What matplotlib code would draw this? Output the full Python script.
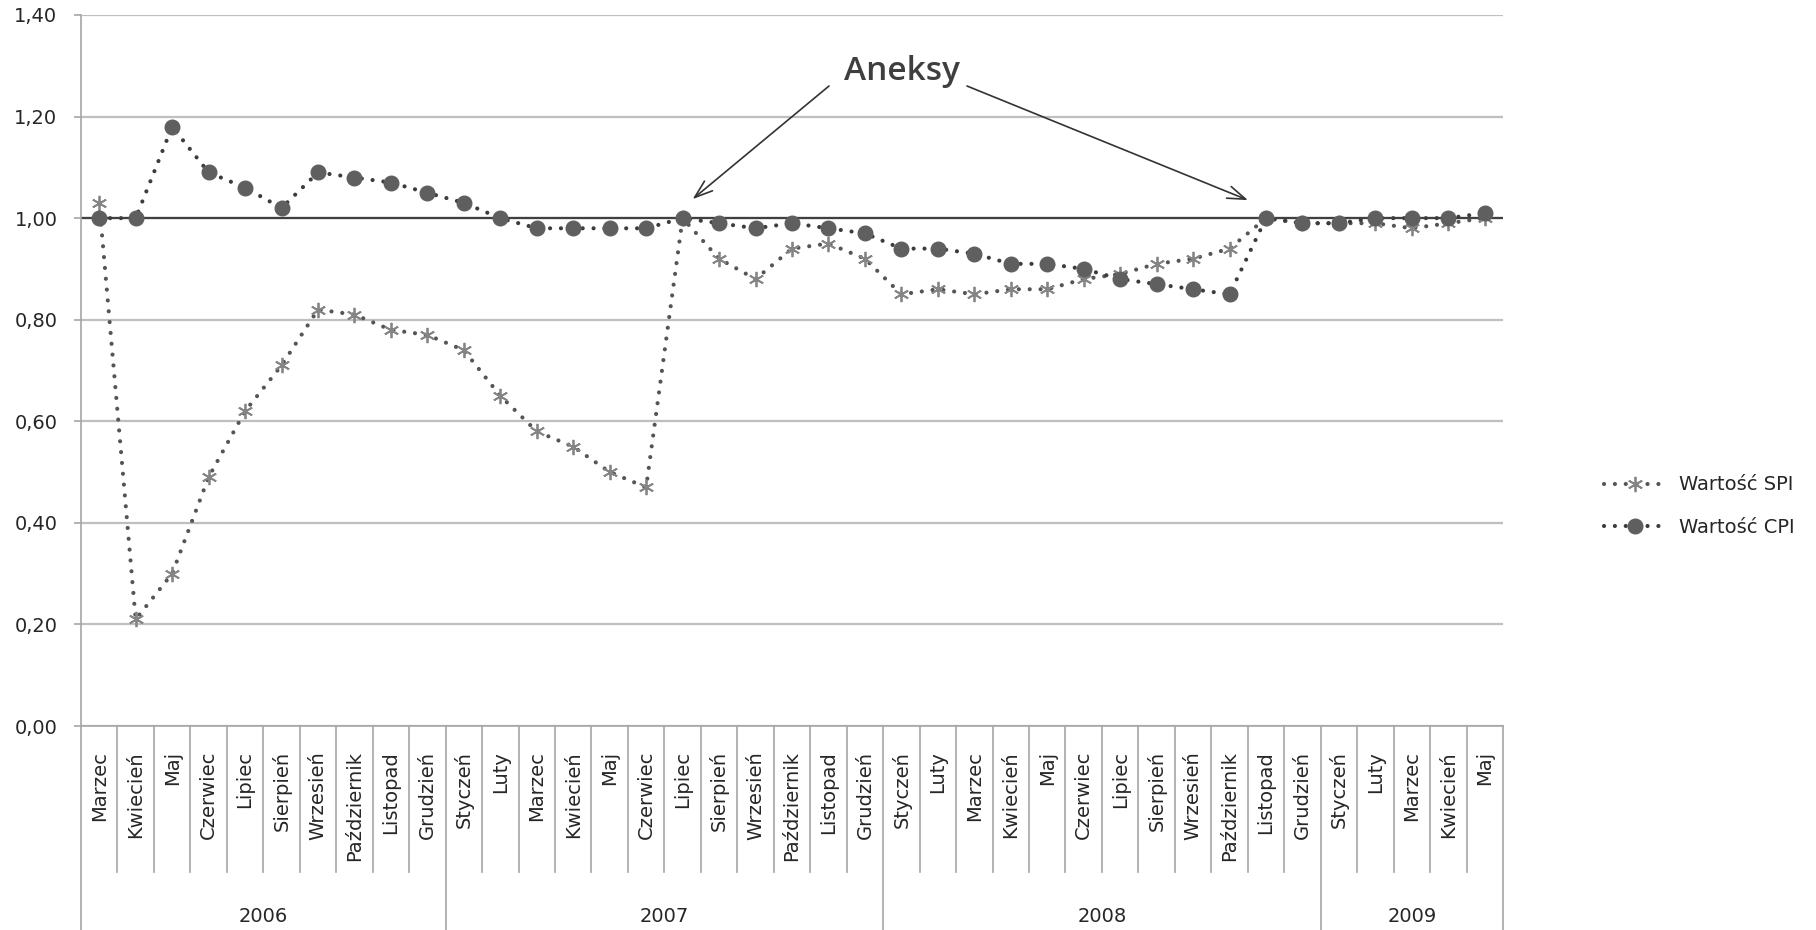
import matplotlib
matplotlib.use('Agg')
import matplotlib.pyplot as plt
import matplotlib.transforms as mtransforms
import numpy as np

# ---------------- data ----------------
months = ['Marzec', 'Kwiecień', 'Maj', 'Czerwiec', 'Lipiec', 'Sierpień', 'Wrzesień',
          'Październik', 'Listopad', 'Grudzień',
          'Styczeń', 'Luty', 'Marzec', 'Kwiecień', 'Maj', 'Czerwiec', 'Lipiec',
          'Sierpień', 'Wrzesień', 'Październik', 'Listopad', 'Grudzień',
          'Styczeń', 'Luty', 'Marzec', 'Kwiecień', 'Maj', 'Czerwiec', 'Lipiec',
          'Sierpień', 'Wrzesień', 'Październik', 'Listopad', 'Grudzień',
          'Styczeń', 'Luty', 'Marzec', 'Kwiecień', 'Maj']
years = ['2006', '2007', '2008', '2009']
year_counts = [10, 12, 12, 5]

spi = [1.03, 0.21, 0.30, 0.49, 0.62, 0.71, 0.82, 0.81, 0.78, 0.77,
       0.74, 0.65, 0.58, 0.55, 0.50, 0.47, 1.00, 0.92, 0.88, 0.94, 0.95, 0.92,
       0.85, 0.86, 0.85, 0.86, 0.86, 0.88, 0.89, 0.91, 0.92, 0.94, 1.00, 0.99,
       0.99, 0.99, 0.98, 0.99, 1.00]
cpi = [1.00, 1.00, 1.18, 1.09, 1.06, 1.02, 1.09, 1.08, 1.07, 1.05,
       1.03, 1.00, 0.98, 0.98, 0.98, 0.98, 1.00, 0.99, 0.98, 0.99, 0.98, 0.97,
       0.94, 0.94, 0.93, 0.91, 0.91, 0.90, 0.88, 0.87, 0.86, 0.85, 1.00, 0.99,
       0.99, 1.00, 1.00, 1.00, 1.01]
y_ticks = [0.0, 0.2, 0.4, 0.6, 0.8, 1.0, 1.2, 1.4]
annex_idx = [16, 32]          # Lipiec 2007, Listopad 2008
annex_label = 'Aneksy'
series_labels = ['Wartość SPI', 'Wartość CPI']

# ---------------- figure ----------------
W, H = 1816, 930
fig = plt.figure(figsize=(W / 100, H / 100), dpi=100)
ax_left, ax_right, ax_top, ax_bot = 81, 1503, 15, 726
ax = fig.add_axes([ax_left / W, 1 - ax_bot / H, (ax_right - ax_left) / W, (ax_bot - ax_top) / H])

x = np.arange(len(months))
ax.set_xlim(-0.5, len(months) - 0.5)
ax.set_ylim(y_ticks[0], y_ticks[-1])

grid_c = '#bfbfbf'
axis_c = '#a6a6a6'
text_c = '#262626'

ax.set_yticks(y_ticks)
ax.set_yticklabels([f"{v:.2f}".replace('.', ',') for v in y_ticks])
ax.yaxis.grid(True, color=grid_c, lw=1.6)
ax.set_axisbelow(True)
for s in ['top', 'right']:
    ax.spines[s].set_visible(False)
ax.spines['left'].set_color(axis_c)
ax.spines['left'].set_linewidth(1.2)
ax.spines['bottom'].set_color(axis_c)
ax.spines['bottom'].set_linewidth(1.2)
ax.tick_params(axis='y', length=5, width=1.2, color=axis_c, pad=12,
               labelsize=14, labelcolor=text_c)
ax.set_xticks(x)
ax.set_xticklabels(months, rotation=90, fontsize=14, color=text_c)
ax.tick_params(axis='x', length=0, pad=18)

# reference line at 1.00
ax.axhline(1.0, color='#404040', lw=1.6, zorder=2)

dot = (0, (0.01, 2.6))
ax.plot(x, spi, color='#555555', lw=3.0, linestyle=dot, dash_capstyle='round',
        marker=(6, 2, 0), markersize=11, markeredgecolor='#858585',
        markeredgewidth=1.3, label=series_labels[0], zorder=3)
ax.plot(x, cpi, color='#3c3c3c', lw=3.0, linestyle=dot, dash_capstyle='round',
        marker='o', markersize=10.5, markerfacecolor='#5f5f5f',
        markeredgecolor='#5f5f5f', label=series_labels[1], zorder=4)

# category separators and year groups
trans = mtransforms.blended_transform_factory(ax.transData, ax.transAxes)
ax_h = ax_bot - ax_top
short_bot = -(872 - ax_bot) / ax_h
long_bot = -(H + 2 - ax_bot) / ax_h
bounds = np.cumsum([0] + year_counts)
for i in range(len(months) + 1):
    b = long_bot if i in bounds else short_bot
    ax.plot([i - 0.5, i - 0.5], [0, b], transform=trans, color=axis_c, lw=1.2,
            clip_on=False)
year_y = -(916 - ax_bot) / ax_h
for k, yr in enumerate(years):
    c = (bounds[k] + bounds[k + 1]) / 2 - 0.5
    ax.text(c, year_y, yr, transform=trans, ha='center', va='center',
            fontsize=14, color=text_c)

# legend
ax.legend(loc='center left', bbox_to_anchor=(1604 / W, 1 - 506 / H),
          bbox_transform=fig.transFigure, frameon=False, fontsize=14,
          handlelength=3.2, handletextpad=0.65, labelspacing=1.2,
          borderaxespad=0, borderpad=0, labelcolor=text_c)

# annotation
fig.text(902 / W, 1 - 80 / H, annex_label, ha='center', va='baseline',
         fontsize=24, fontweight='semibold', family='Open Sans', color='#3f3f3f')
tip_offsets = [(10, 19), (-18, 18)]
tails = [(829, H - 86), (967, H - 86)]
for idx, (dx, dy), tail in zip(annex_idx, tip_offsets, tails):
    tr = ax.transData + mtransforms.ScaledTranslation(dx / 100, dy / 100, fig.dpi_scale_trans)
    ax.annotate('', xy=(idx, cpi[idx]), xycoords=tr, xytext=tail,
                textcoords='figure pixels',
                arrowprops=dict(arrowstyle='->,head_length=1.3,head_width=0.45',
                                color='#333333', lw=1.2, shrinkA=0, shrinkB=0))

fig.savefig('out.png', dpi=100)
